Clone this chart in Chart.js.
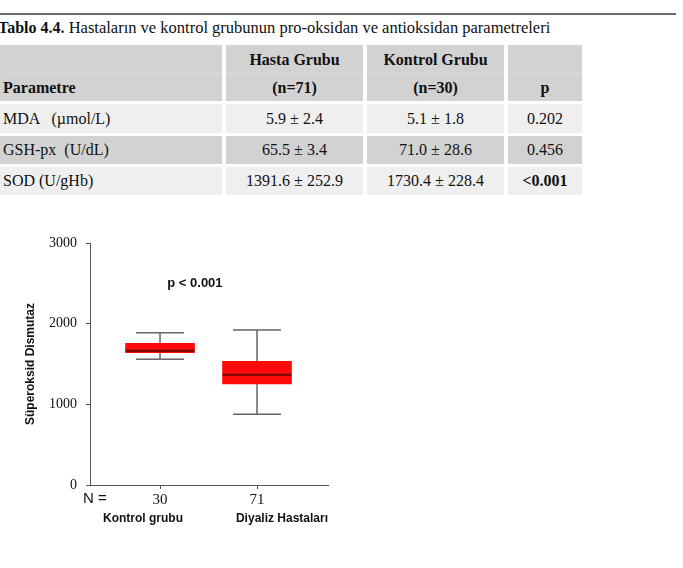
<!DOCTYPE html>
<html lang="tr">
<head>
<meta charset="utf-8">
<title>Tablo 4.4</title>
<script src="https://cdn.jsdelivr.net/npm/chart.js@4.4.1/dist/chart.umd.min.js"></script>
<style>
  html, body { margin: 0; padding: 0; background: #fff; }
  body { width: 683px; height: 568px; position: relative; overflow: hidden;
         font-family: "Liberation Serif", "Times New Roman", serif; color: #111; }
  .rule { position: absolute; left: 0; top: 13px; width: 676px; height: 2px; background: #6a6a6a; }
  .caption { position: absolute; left: -2px; top: 19px; font-size: 16.5px; line-height: 18px; white-space: nowrap; }
  .caption b { font-size: 16px; }
  table { position: absolute; left: -4px; top: 42px; border-collapse: separate; border-spacing: 4px 3px; font-size: 16px; }
  td { padding: 0; }
  .head td { background: #d2d2d2; height: 56px; font-weight: bold; text-align: center; }
  .head td div { height: 27px; line-height: 27px; }
  .head td div + div { border-top: 1px solid #dedede; }
  .light td { background: #efefef; }
  .dark td { background: #d2d2d2; }
  tr.r1 td { height: 29px; }
  tr.r2 td, tr.r3 td { height: 28px; }
  td.c1 { width: 219px; text-align: left; padding-left: 3px; }
  td.c2, td.c3 { width: 137px; text-align: center; }
  td.c4 { width: 74px; text-align: center; }
  #box { position: absolute; left: 0; top: 220px; }
</style>
</head>
<body>
<div class="rule"></div>
<div class="caption"><b>Tablo 4.4.</b> Hastaların ve kontrol grubunun pro-oksidan ve antioksidan parametreleri</div>
<table>
  <tr class="head">
    <td class="c1" style="text-align:left"><div></div><div>Parametre</div></td>
    <td class="c2"><div>Hasta Grubu</div><div>(n=71)</div></td>
    <td class="c3"><div>Kontrol Grubu</div><div>(n=30)</div></td>
    <td class="c4"><div></div><div>p</div></td>
  </tr>
  <tr class="light r1">
    <td class="c1">MDA &nbsp; (µmol/L)</td><td class="c2">5.9 ± 2.4</td><td class="c3">5.1 ± 1.8</td><td class="c4">0.202</td>
  </tr>
  <tr class="dark r2">
    <td class="c1">GSH-px &nbsp;(U/dL)</td><td class="c2">65.5 ± 3.4</td><td class="c3">71.0 ± 28.6</td><td class="c4">0.456</td>
  </tr>
  <tr class="light r3">
    <td class="c1">SOD (U/gHb)</td><td class="c2">1391.6 ± 252.9</td><td class="c3">1730.4 ± 228.4</td><td class="c4"><b>&lt;0.001</b></td>
  </tr>
</table>
<canvas id="box" width="340" height="320"></canvas>
<script>
// Kutu grafiği verileri
const groups = ["Kontrol grubu", "Diyaliz Hastaları"];
const nLabels = ["30", "71"];
const positions = [1, 2];
const whiskerLow = [1558, 876];
const q1 = [1640, 1252];
const median = [1665, 1367];
const q3 = [1756, 1533];
const whiskerHigh = [1888, 1921];
const yTicks = [0, 1000, 2000, 3000];
const pText = "p < 0.001";

const SERIF = '"Liberation Serif", "Times New Roman", serif';
const SANS = '"Liberation Sans", Arial, sans-serif';
const BOX_HALF = 0.355;
const CAP_HALF = 0.247;
const AXIS_COLOR = "#555";

function seg(x1, y1, x2, y2, color, width) {
  return {
    type: "line",
    data: [{ x: x1, y: y1 }, { x: x2, y: y2 }],
    borderColor: color,
    borderWidth: width,
    pointRadius: 0,
    fill: false,
  };
}

const datasets = [];
// Medyan çizgileri (en üstte)
positions.forEach((c, i) => {
  datasets.push(seg(c - BOX_HALF, median[i], c + BOX_HALF, median[i], "#6e0808", 2));
});
// Kutular
datasets.push({
  type: "bar",
  data: positions.map((c, i) => ({ x: c, y: [q1[i], q3[i]] })),
  backgroundColor: "#ff0a0a",
  borderWidth: 0,
  borderSkipped: false,
  barThickness: 69,
  grouped: false,
});
// Bıyıklar ve uç çizgileri
positions.forEach((c, i) => {
  datasets.push(seg(c, q3[i], c, whiskerHigh[i], "#666", 1.5));
  datasets.push(seg(c, whiskerLow[i], c, q1[i], "#666", 1.5));
  datasets.push(seg(c - CAP_HALF, whiskerHigh[i], c + CAP_HALF, whiskerHigh[i], "#666", 1.5));
  datasets.push(seg(c - CAP_HALF, whiskerLow[i], c + CAP_HALF, whiskerLow[i], "#666", 1.5));
});

// Eksen altındaki yazılar ve p değeri
const notes = {
  id: "notes",
  afterDraw(chart) {
    const ctx = chart.ctx;
    const xs = chart.scales.x;
    const ys = chart.scales.y;
    const area = chart.chartArea;
    ctx.save();
    ctx.fillStyle = "#111";
    ctx.textBaseline = "middle";

    ctx.font = "15px " + SANS;
    ctx.textAlign = "center";
    ctx.fillText("N =", area.left + 5, area.bottom + 14);

    ctx.font = "bold 12px " + SANS;
    ctx.textAlign = "center";
    ctx.fillText(groups[0], xs.getPixelForValue(positions[0]) - 17, area.bottom + 34);
    ctx.textAlign = "right";
    ctx.fillText(groups[1], area.right, area.bottom + 34);

    ctx.font = "bold 13px " + SANS;
    ctx.textAlign = "center";
    ctx.fillText(pText, xs.getPixelForValue(1.36), ys.getPixelForValue(2500));
    ctx.restore();
  },
};

new Chart(document.getElementById("box").getContext("2d"), {
  type: "bar",
  data: { datasets: datasets },
  plugins: [notes],
  options: {
    responsive: false,
    animation: false,
    layout: { padding: { top: 23, right: 12, left: 0, bottom: 0 } },
    plugins: {
      legend: { display: false },
      tooltip: { enabled: false },
    },
    scales: {
      x: {
        type: "linear",
        min: 0.278,
        max: 2.732,
        offset: false,
        afterBuildTicks: (scale) => {
          scale.ticks = positions.map((v) => ({ value: v }));
        },
        afterFit: (scale) => {
          scale.height = 55;
        },
        ticks: {
          callback: (v, i) => nLabels[i],
          font: { family: SERIF, size: 15 },
          color: "#111",
          padding: 2,
          maxRotation: 0,
        },
        grid: { drawOnChartArea: false, offset: false, tickLength: 4, color: AXIS_COLOR },
        border: { color: AXIS_COLOR, width: 1 },
      },
      y: {
        min: 0,
        max: 3000,
        afterBuildTicks: (scale) => {
          scale.ticks = yTicks.map((v) => ({ value: v }));
        },
        afterFit: (scale) => {
          scale.width = 90;
        },
        ticks: {
          callback: (v) => String(v),
          font: { family: SERIF, size: 14 },
          color: "#111",
          padding: 9,
        },
        grid: { drawOnChartArea: false, tickLength: 4, color: AXIS_COLOR },
        border: { color: AXIS_COLOR, width: 1 },
        title: {
          display: true,
          text: "Süperoksid Dismutaz",
          font: { family: SANS, size: 12, weight: "bold" },
          color: "#111",
          padding: { top: 23, bottom: 0 },
        },
      },
    },
  },
});
</script>
</body>
</html>
